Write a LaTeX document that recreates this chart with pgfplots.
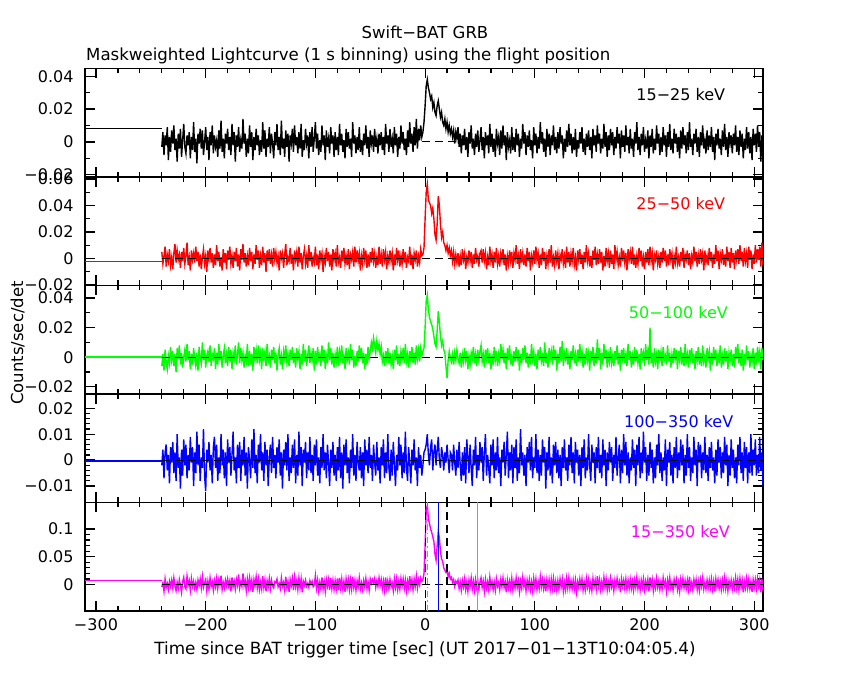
\documentclass[border=0pt]{standalone}
\usepackage{pgfplots}
\pgfplotsset{compat=1.18}
\usepackage{pgfplotstable}
\usepackage{fontspec}
\setmainfont{DejaVu Sans}
\definecolor{bgreen}{RGB}{0,255,0}
\definecolor{bmag}{RGB}{255,0,255}
\definecolor{borange}{RGB}{255,128,0}
\definecolor{bblue}{RGB}{0,0,255}
\definecolor{bred}{RGB}{255,0,0}
% columns: 15-25, 25-50, 50-100, 100-350, 15-350 keV (units of 1e-3 counts/sec/det), t = -240 ... 308 s
\pgfplotstableread[header=false]{
-3 5 -6 -2 -4
6 -4 2 4 3
-8 2 -9 -7 -12
4 9 5 3 10
-2 -6 -3 6 -5
9 3 -8 -4 2
-11 -2 1 2 -9
3 7 -4 -9 6
-6 -5 7 5 -3
7 1 -2 -1 8
-1 -8 4 7 -6
10 4 -6 -5 12
-5 11 2 3 -2
2 -3 -10 -8 -11
-12 6 6 10 4
5 -1 -1 -3 -7
-4 3 8 1 9
8 -7 -5 -11 -1
-9 5 3 4 -14
1 -2 -7 -6 5
11 8 0 8 13
-3 -4 5 -2 -4
-7 2 -3 6 -8
4 12 9 -7 15
-2 -5 -2 2 -1
6 1 4 -4 7
-10 -9 -8 9 -10
3 6 2 -1 11
-5 -1 -5 5 -3
12 4 6 -10 6
-6 -3 -1 3 -7
2 9 -6 -5 4
-13 -2 3 11 -9
5 5 -9 -2 8
-1 -6 7 6 -2
8 3 0 -8 10
-4 -8 -4 1 -6
7 1 10 -3 14
-8 7 -2 12 -5
0 -4 5 -6 3
9 2 -7 -12 9
-5 -10 1 4 -11
3 6 4 -1 6
-11 -1 -3 7 -8
6 8 8 -4 12
-2 -3 -6 2 -3
10 4 2 -9 5
-7 -7 -1 5 -10
4 3 6 9 7
-3 -5 -8 -3 -4
1 10 3 6 11
-9 -2 -5 -8 -7
7 5 9 1 9
-4 -6 -2 -5 -1
13 1 4 10 16
-6 -9 -7 -2 -9
2 7 1 4 4
-10 -3 6 -7 -6
5 4 -4 3 8
-1 -8 2 -10 -2
8 6 -6 8 10
-5 -1 7 -1 -3
3 9 -3 5 7
-8 -4 5 -6 -12
11 2 -8 2 13
-2 -7 3 11 -4
6 5 -1 -4 6
-12 -2 8 1 -8
4 8 -5 -9 9
-3 -6 2 6 -1
9 3 10 -3 18
-6 -9 -4 7 -6
1 7 6 -8 5
-4 -1 -2 4 -3
14 11 3 -2 20
-1 -3 -7 9 -2
5 4 1 -6 7
-9 -6 -3 3 -11
2 2 9 -11 10
-7 -5 -6 5 -5
10 8 4 0 12
-3 -2 -5 -7 -4
6 5 2 8 8
-11 -8 -9 -3 -13
3 3 7 12 9
-5 -4 -1 -5 -2
8 10 5 2 14
-2 -1 -4 -9 -6
4 6 8 6 10
-8 -7 -2 -1 -9
1 2 3 10 4
-6 -5 -8 -4 -8
12 9 6 3 15
-4 -3 -1 -8 -5
7 4 4 7 9
-9 -10 -6 -2 -12
2 6 9 4 7
-3 -2 -3 -10 -4
9 7 1 1 11
-7 -4 -7 6 -7
5 3 5 -5 8
-1 -6 -2 9 -2
-10 8 7 -3 -6
6 -1 -4 2 5
-2 5 3 -7 3
11 -3 -9 5 10
-5 2 2 -1 -4
3 -9 6 8 2
-8 6 -5 -6 -7
13 0 1 3 12
-4 4 -8 -11 -3
2 -7 4 4 4
-9 3 -1 -2 -10
7 11 8 7 14
-3 -5 -3 -4 -5
5 1 2 10 6
-12 -2 -6 -8 -13
4 8 5 1 9
-1 -4 -2 -5 -2
8 3 7 6 11
-6 -9 -4 -3 -10
10 6 3 8 13
-2 -1 -7 -9 -4
3 5 6 2 7
-7 -6 -1 -6 -9
6 9 4 11 12
-4 -3 -8 -2 -6
11 4 2 5 10
-9 -8 -5 -10 -14
1 2 9 4 6
-5 7 -3 -1 -1
8 -4 5 7 8
-1 2 -6 -7 -3
4 -7 1 3 2
-10 10 8 -4 -5
6 -2 -4 9 7
-3 5 3 -5 0
9 -6 -2 2 6
-6 1 6 -8 -4
2 -3 -9 6 -1
12 9 4 -2 16
-4 -5 -5 8 -6
5 3 7 -6 8
-8 -8 -1 1 -11
1 6 2 -9 4
-6 -1 -6 5 -7
10 4 8 -3 13
-2 -10 -3 10 -8
4 2 5 -4 6
-11 -3 -8 3 -12
7 8 1 -7 9
-3 -2 -4 6 -3
2 5 10 -1 9
-7 -6 -2 -10 -10
9 3 6 4 12
-1 -9 -5 -3 -7
4 7 3 7 8
-9 -1 -7 -6 -9
6 4 2 2 7
-5 -6 -3 -8 -8
3 10 7 5 11
-8 -3 -6 -4 -10
11 1 4 9 12
-2 -7 -1 -7 -6
5 6 8 3 10
-6 -2 -4 -11 -8
1 8 2 6 6
-10 -4 -8 -2 -13
8 2 6 8 10
-3 -5 -2 -5 -5
6 7 3 1 9
-4 -8 -5 -9 -9
2 3 9 4 8
-9 -1 -2 -3 -8
12 5 5 10 14
-1 -6 -7 -6 -5
4 9 1 2 8
-7 -3 -6 -8 -10
3 6 4 7 7
-5 -2 -3 -1 -4
9 4 8 -4 12
-6 -9 -1 5 -8
1 2 6 -7 3
-8 -4 -4 3 -9
5 8 3 -10 7
-2 -1 -8 8 -4
10 6 2 -2 11
-4 -7 -5 4 -7
3 3 7 -5 5
-9 -6 -1 9 -10
7 5 4 -3 10
-1 -3 10 2 2
4 8 6 -8 9
-6 -2 13 6 3
8 4 8 -1 11
-3 -7 3 -6 -5
2 1 11 7 7
-7 -5 5 -4 -3
5 9 9 1 12
-2 -4 2 -9 -2
6 3 7 5 9
-5 -6 -3 -2 -8
3 7 1 8 6
-8 -1 -6 -7 -10
11 5 4 3 13
-1 -8 -2 -5 -6
4 2 6 10 7
-6 -3 -4 -3 -7
8 6 3 -8 9
-3 -2 -5 4 -4
2 4 1 -6 3
-7 -9 -8 7 -11
9 3 5 -1 10
-2 -5 -2 -10 -5
5 8 8 2 10
-9 -1 -5 -4 -9
3 6 2 9 6
-4 -6 -6 -2 -8
10 2 4 6 11
-1 -4 -1 -7 -3
6 7 6 3 10
-5 -3 -4 -5 -7
2 5 9 11 8
-8 -7 -3 -3 -11
7 1 2 -8 6
-3 -2 -7 5 -6
12 9 4 -1 15
-1 -5 -2 -9 -4
5 3 7 4 9
-6 -8 -4 -2 -9
9 4 3 8 10
-2 -1 -5 -4 -3
14 6 8 1 15
-4 -6 -1 -10 -6
8 2 5 5 9
1 -3 -3 -3 0
10 7 6 2 12
3 2 1 -6 6
6 3 4 -2 9
12 8 6 3 20
22 30 20 4 70
34 50 38 6 135
38 56 42 10 142
33 44 32 2 118
30 42 27 -2 110
26 40 24 5 100
28 34 22 8 94
21 38 19 -4 86
24 30 14 3 78
18 18 9 6 55
16 14 7 -2 44
22 26 18 4 70
25 47 31 9 96
20 40 24 0 84
15 26 14 -3 60
18 16 8 5 46
12 20 11 2 42
10 12 5 -4 30
14 10 3 3 26
8 6 -6 -1 22
12 10 -14 6 28
6 4 -2 0 14
10 8 4 -5 20
5 2 0 3 10
8 6 -3 2 13
3 -2 2 -4 4
7 5 -5 6 9
-1 -4 3 -1 -3
6 3 -2 -6 6
2 -3 5 4 2
9 4 -1 -3 8
-3 -6 -4 7 -7
5 2 3 -2 5
-7 -5 -7 -8 -10
4 7 2 3 7
-2 -1 -3 -6 -4
8 4 6 5 10
-5 -8 -2 -9 -9
3 1 4 8 5
-9 -3 -8 1 -12
6 6 1 -5 8
-1 -2 -5 6 -3
10 5 3 -3 12
-4 -7 -1 -10 -8
2 3 7 4 6
-8 -4 -4 -2 -10
5 8 2 9 9
-3 -1 -6 -7 -5
7 2 5 2 8
-6 -6 -2 -4 -9
1 4 4 7 4
9 6 8 -1 12
-5 -3 -3 5 -5
3 7 2 -8 6
-10 -2 -7 3 -12
6 4 5 10 9
-2 -8 -1 -6 -6
4 1 6 2 5
-7 -5 -4 -3 -9
11 9 3 -9 13
-3 -2 -8 6 -4
5 3 1 -2 6
-6 -7 -5 8 -9
2 5 7 -7 5
-9 -3 -2 3 -10
8 8 4 -4 10
-1 -4 -6 9 -3
3 2 2 -5 4
-8 -6 -3 1 -9
7 4 9 -10 9
-4 -1 -1 4 -4
10 7 5 -1 12
-2 -5 -4 7 -5
4 3 3 -6 5
-11 -9 -8 2 -14
6 2 6 11 8
-3 -4 -2 -7 -6
1 6 8 3 6
-7 -2 -5 -4 -8
9 5 1 6 11
-5 -7 -6 -9 -9
3 4 4 5 6
-6 -1 -3 -3 -6
8 10 7 8 12
-2 -4 -1 -8 -5
5 2 5 1 7
-9 -8 -9 -5 -13
2 7 2 12 6
-4 -3 -4 -2 -6
11 4 6 3 13
-1 -5 -2 -6 -3
6 3 8 2 9
-8 -6 -4 -10 -11
4 8 3 5 8
-3 -2 -7 -1 -5
7 5 2 7 9
-5 -9 -5 -4 -9
1 2 9 9 5
-10 -3 -1 -7 -11
9 6 4 1 11
-2 -4 -6 -3 -5
5 9 2 10 10
-7 -1 -8 -5 -9
3 4 5 4 6
-4 -7 -2 -8 -7
12 3 7 2 14
-1 -5 -3 -6 -4
6 8 1 8 9
-6 -2 -6 -1 -7
2 5 10 5 7
-9 -8 -4 -11 -12
8 2 3 3 9
-3 -4 -7 -4 -6
5 7 6 9 9
-8 -3 -1 -6 -9
4 10 4 1 10
-2 -6 -5 -9 -7
10 1 8 6 11
-5 -5 -2 -2 -7
3 6 5 7 6
-7 -2 -9 -5 -10
6 4 2 4 7
-4 -8 -4 -7 -8
9 3 7 2 10
-1 -1 -3 -10 -4
4 7 11 5 10
-10 -4 -6 -3 -12
2 2 3 8 4
-6 -7 -1 -4 -9
7 9 6 1 11
-3 -3 -5 -8 -6
11 5 1 6 12
-2 -6 -8 -2 -7
5 4 4 9 7
-7 -2 -2 -5 -8
3 8 8 3 8
-5 -5 -4 -9 -8
8 1 2 7 8
-9 -9 -6 -1 -13
1 6 5 4 5
-4 -1 -3 -6 -5
6 7 9 2 10
-1 -4 -1 -10 -4
9 3 4 5 10
-6 -8 -7 -3 -10
2 5 2 8 5
-8 -3 -5 -7 -9
5 10 6 1 11
-3 -2 -2 -4 -4
7 4 3 10 9
-5 -6 -9 -2 -9
3 2 4 -8 4
-10 -7 -3 6 -11
8 6 7 -1 11
-2 -1 -6 3 -4
4 9 1 -9 8
-6 -5 -4 5 -8
10 3 12 -3 15
-1 -4 -2 9 -3
5 7 6 -5 9
-7 -3 -8 2 -9
2 5 3 -7 5
-4 -9 -5 8 -8
11 2 9 -2 13
-3 -6 -1 4 -5
6 8 5 -10 10
-9 -2 -7 3 -10
4 4 2 -4 5
-5 -7 -3 7 -7
8 6 7 -1 11
-2 -4 -4 5 -4
6 3 1 -8 6
-8 -8 -6 2 -11
3 10 4 -3 8
-4 -1 -2 9 -4
9 5 8 -6 11
-1 -5 -5 1 -4
5 1 3 6 5
-10 -6 -9 -9 -14
7 8 5 4 10
-3 -2 -1 -5 -3
4 6 6 10 8
-6 -3 -4 -2 -7
10 4 2 7 10
-2 -9 -6 -6 -8
3 7 9 3 8
-7 -1 -2 -9 -7
8 5 4 1 9
-4 -4 -7 -4 -7
2 9 1 8 6
-9 -5 -5 -3 -10
6 3 7 4 8
-1 -7 -3 -10 -5
12 2 5 6 13
-5 -4 -4 -2 -7
3 8 2 9 7
-8 -2 -8 -7 -10
5 6 6 3 8
-2 -6 -1 -5 -5
9 1 3 11 10
-6 -8 -6 -1 -9
1 5 9 5 6
-4 -3 -2 -8 -5
7 7 4 2 9
-10 -5 -5 -6 -12
4 9 20 7 13
-3 -2 -4 -3 -4
8 4 3 4 9
-7 -9 -7 -9 -11
2 3 6 1 5
-5 -1 -3 -7 -6
10 6 2 6 11
-1 -4 -8 -2 -5
5 2 5 10 7
-8 -7 -1 -5 -9
3 5 4 3 6
-6 -3 -6 -8 -8
9 8 7 1 12
-2 -2 -2 -4 -3
4 6 1 8 6
-9 -6 -5 -10 -12
6 3 8 4 8
-3 -5 -3 -1 -5
11 7 3 7 12
-5 -1 -7 -6 -6
2 4 2 2 4
-7 -8 -4 -9 -10
8 2 6 5 9
-1 -3 -1 -3 -2
5 9 5 9 9
-6 -4 -8 -7 -9
3 1 4 3 4
-10 -6 -2 -4 -12
7 5 7 8 9
-4 -2 -5 -2 -5
9 8 3 6 11
-2 -7 -6 -9 -6
4 3 9 2 7
-7 -1 -3 -6 -7
6 6 2 10 8
-5 -5 -7 -3 -8
12 4 5 5 14
-3 -8 -1 -8 -6
2 2 6 1 4
-8 -3 -4 -5 -9
5 9 2 9 9
-1 -2 -8 -2 -3
8 5 4 4 9
-6 -6 -2 -10 -9
3 3 7 7 6
-9 -4 -5 -1 -10
6 7 3 6 9
-2 -1 -6 -7 -3
10 4 8 3 12
-4 -9 -3 -4 -8
1 6 1 9 4
-7 -3 -7 -5 -8
7 2 6 2 8
-5 -5 -1 -8 -6
4 8 4 5 8
-3 -2 -9 -3 -6
9 5 3 7 10
-6 -7 -5 -4 -8
3 3 7 1 6
-11 -4 -2 -9 -12
5 10 5 4 10
-2 -2 -6 -6 -4
8 6 2 8 9
-4 -8 -4 -1 -7
2 4 8 5 6
-8 -1 -7 -7 -9
7 7 1 3 8
-3 -5 -5 -5 -6
11 3 6 9 12
-5 -6 -3 -2 -7
3 9 4 6 8
-9 -2 -8 -10 -11
6 5 3 2 7
-1 -7 -2 -6 -4
4 8 5 8 8
-7 -3 -6 -3 -8
5 4 2 4 6
-2 -8 -7 -7 -6
10 6 7 1 12
-6 -1 -1 -9 -6
3 7 9 6 9
-8 -4 -4 -2 -9
7 10 3 9 11
-3 -2 -6 -5 -5
5 5 5 3 8
-10 -6 -9 -8 -14
2 8 2 7 6
-5 -2 -5 -3 -6
9 4 8 5 11
-4 -7 -2 -9 -6
6 9 4 3 9
-7 -1 -7 -5 -7
3 6 1 10 6
-11 -8 -3 -6 -13
8 3 6 4 9
-2 -4 -8 -2 -5
5 10 3 8 9
-6 -3 -5 -6 -7
10 7 7 2 11
-3 -1 -1 -5 -3
6 9 4 9 9
-12 -6 -8 -4 -14
4 12 6 3 10
-9 -5 -2 -10 -11
}\lc
\pgfplotsset{
  every tick label/.append style={font=\fontsize{16}{19}\selectfont},
  panel/.style={
    scale only axis, width=678pt, height=108.5pt,
    anchor=north west,
    xmin=-310, xmax=308,
    xtick={-300,-200,-100,0,100,200,300},
    minor x tick num=4,
    tick align=inside,
    major tick length=10pt, minor tick length=5pt,
    axis line style={line width=1.4pt},
    every tick/.style={line width=1.2pt, black},
    xticklabels={},
    yticklabel style={xshift=-8pt},
    xticklabel style={yshift=-4.4pt},
  },
}
\tikzset{
  dat/.style={line width=1.4pt, line join=miter},
  zl/.style={black, line width=1.1pt, dash pattern=on 8pt off 5pt},
  lab/.style={anchor=west, inner sep=0pt, font=\fontsize{16}{19}\selectfont},
}
\begin{document}
\begin{tikzpicture}
\path[use as bounding box] (0pt,0pt) rectangle (850pt,-680pt);
\node[anchor=base, font=\fontsize{16.5}{19}\selectfont] at (425pt,-38.5pt) {Swift−BAT GRB};
\node[anchor=base west, inner sep=0pt, font=\fontsize{16.6}{19}\selectfont] at (86pt,-60.5pt) {Maskweighted Lightcurve (1 s binning) using the flight position};
\node[anchor=base, rotate=90, font=\fontsize{16.5}{19}\selectfont] at (23pt,-343pt) {Counts/sec/det};
\node[anchor=base, font=\fontsize{16.8}{19}\selectfont] at (425pt,-654.3pt) {Time since BAT trigger time [sec] (UT 2017−01−13T10:04:05.4)};

% panel 1
\begin{axis}[panel, at={(85pt,-68.3pt)}, ymin=-21.2, ymax=44.8,
  ytick={-20,0,20,40}, yticklabels={−0.02,0,0.02,0.04}, minor y tick num=1]
\addplot[black, dat, mark=none] coordinates {(-310,8) (-240,8)};
\addplot[black, dat, mark=none] table[x expr=\coordindex-240, y index=0] {\lc};
\addplot[zl, mark=none] coordinates {(-240,0) (308,0)};
\node[lab, black] at (rel axis cs:0.813,0.754) {15−25 keV};
\end{axis}

% panel 2
\begin{axis}[panel, at={(85pt,-176.8pt)}, ymin=-20.2, ymax=61.6,
  ytick={-20,0,20,40,60}, yticklabels={−0.02,0,0.02,0.04,0.06}, minor y tick num=1]
\addplot[bred, dat, mark=none] coordinates {(-310,-2.3) (-240,-2.3)};
\addplot[bred, dat, mark=none] table[x expr=\coordindex-240, y index=1] {\lc};
\addplot[zl, mark=none] coordinates {(-240,0) (308,0)};
\node[lab, bred] at (rel axis cs:0.813,0.75) {25−50 keV};
\end{axis}

% panel 3
\begin{axis}[panel, at={(85pt,-285.3pt)}, ymin=-24.7, ymax=48.5,
  ytick={-20,0,20,40}, yticklabels={−0.02,0,0.02,0.04}, minor y tick num=1]
\addplot[bgreen, dat, mark=none] coordinates {(-310,0.2) (-240,0.2)};
\addplot[bgreen, dat, mark=none] table[x expr=\coordindex-240, y index=2] {\lc};
\addplot[zl, mark=none] coordinates {(-240,0) (308,0)};
\node[lab, bgreen] at (rel axis cs:0.802,0.745) {50−100 keV};
\end{axis}

% panel 4
\begin{axis}[panel, at={(85pt,-393.8pt)}, ymin=-16.3, ymax=25.6,
  ytick={-10,0,10,20}, yticklabels={−0.01,0,0.01,0.02}, minor y tick num=4]
\addplot[bblue, dat, mark=none] coordinates {(-310,-0.4) (-240,-0.4)};
\addplot[bblue, dat, mark=none] table[x expr=\coordindex-240, y index=3] {\lc};
\addplot[zl, mark=none] coordinates {(-240,0) (308,0)};
\node[lab, bblue] at (rel axis cs:0.795,0.74) {100−350 keV};
\end{axis}

% panel 5
\begin{axis}[panel, at={(85pt,-502.3pt)}, ymin=-47.2, ymax=147.9,
  ytick={0,50,100}, yticklabels={0,0.05,0.1}, minor y tick num=4,
  xticklabels={−300,−200,−100,0,100,200,300}]
\addplot[bmag, dat, mark=none] coordinates {(-310,7) (-240,7)};
\addplot[bmag, dat, mark=none] table[x expr=\coordindex-240, y index=4] {\lc};
\addplot[zl, mark=none] coordinates {(-240,0) (308,0)};
\addplot[zl, mark=none] coordinates {(0,-47.2) (0,147.9)};
\addplot[bgreen, line width=1.1pt, dash pattern=on 6pt off 3pt on 1.5pt off 3pt, mark=none] coordinates {(2,-47.2) (2,147.9)};
\addplot[bblue, line width=1.1pt, mark=none] coordinates {(12,-47.2) (12,147.9)};
\addplot[zl, mark=none] coordinates {(20,-47.2) (20,147.9)};
\addplot[borange, line width=1.1pt, mark=none] coordinates {(48,-47.2) (48,147.9)};
\node[lab, bmag] at (rel axis cs:0.805,0.735) {15−350 keV};
\end{axis}
\end{tikzpicture}
\end{document}
